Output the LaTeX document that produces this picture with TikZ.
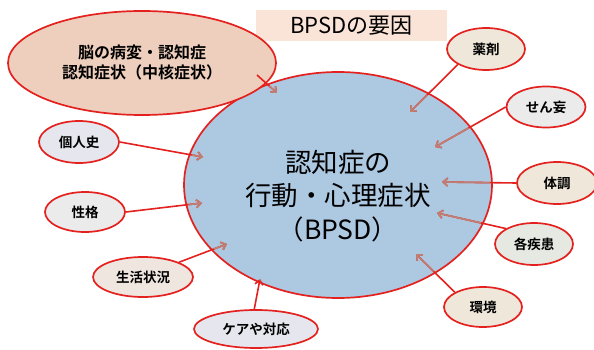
\documentclass[tikz,border=0pt]{standalone}
\usepackage{fontspec}
\setmainfont{Noto Sans CJK JP}[BoldFont={Noto Sans CJK JP Bold}]
\usetikzlibrary{shapes.geometric,arrows.meta}
\definecolor{rd}{HTML}{E3221F}
\definecolor{brn}{HTML}{BF7F72}
\definecolor{mainblue}{HTML}{ADC8E1}
\definecolor{peach}{HTML}{EECFBD}
\definecolor{titlebg}{HTML}{FAE3D7}
\definecolor{lav}{HTML}{E6E7EE}
\definecolor{lgray}{HTML}{EBEBEB}
\definecolor{pinkish}{HTML}{F0E6E0}
\definecolor{beige}{HTML}{EEE7DA}
\definecolor{lgreen}{HTML}{E5E9E1}
\begin{document}
\begin{tikzpicture}[x=1pt,y=-1pt,
  lab/.style={ellipse, draw=rd, line width=1.7pt, inner sep=0pt,
    font=\bfseries\fontsize{13.5}{16}\selectfont},
  conn/.style={line width=1.6pt, -{Straight Barb[length=4.5pt,width=8pt]}},
  redc/.style={conn, draw=rd},
  brnc/.style={conn, draw=brn},
]
\useasboundingbox (0,0) rectangle (594,350);
% title
\node[fill=titlebg, minimum width=191pt, minimum height=31pt, inner sep=0pt,
  font=\fontsize{22}{26}\selectfont] (title) at (351.5,25.5) {BPSDの要因};
% main ellipse
\node[ellipse, fill=mainblue, draw=rd, line width=1.7pt, minimum width=308pt,
  minimum height=226pt, inner sep=0pt] (main) at (338,185) {};
\node[align=center, font=\fontsize{26.5}{33.5}\selectfont] (maintext) at (338,196)
  {認知症の\\行動・心理症状\\（BPSD）};
% brain ellipse
\node[ellipse, fill=peach, draw=rd, line width=1.7pt, minimum width=268pt,
  minimum height=104pt, inner sep=0pt, align=center,
  font=\bfseries\fontsize{16}{20}\selectfont] (brain) at (142,63)
  {脳の病変・認知症\\認知症状（中核症状）};
% small ellipses
\node[lab, fill=lav, minimum width=80pt, minimum height=42pt] (koj) at (79,142) {個人史};
\node[lab, fill=lgray, minimum width=80pt, minimum height=40pt] (seikaku) at (85,212) {性格};
\node[lab, fill=pinkish, minimum width=100pt, minimum height=40pt] (seikatsu) at (143,277) {生活状況};
\node[lab, fill=lav, minimum width=124pt, minimum height=38pt] (care) at (256,329) {ケアや対応};
\node[lab, fill=beige, minimum width=78pt, minimum height=42pt] (yaku) at (486,49) {薬剤};
\node[lab, fill=lgray, minimum width=79pt, minimum height=41pt] (senmo) at (546,107) {せん妄};
\node[lab, fill=beige, minimum width=80pt, minimum height=42pt] (taicho) at (557,183) {体調};
\node[lab, fill=lgreen, minimum width=78pt, minimum height=42pt] (shikkan) at (534,244) {各疾患};
\node[lab, fill=beige, minimum width=78pt, minimum height=40pt] (kankyo) at (483,307) {環境};
% arrow end points
\coordinate (bs) at (257,75);
\coordinate (eb) at (277,93);
\coordinate (ek) at (203,157);
\coordinate (es) at (202,203);
\coordinate (el) at (227,244);
\coordinate (ec) at (260,279);
\coordinate (ey) at (410,112);
\coordinate (em) at (435,147);
\coordinate (et) at (442,182);
\coordinate (ed) at (437,213);
\coordinate (ev) at (416,254);
% red connectors
\draw[redc] (bs) -- (eb);
\draw[redc] (koj.east) -- (ek);
\draw[redc] (seikaku.east) -- (es);
\draw[redc] (seikatsu.north east) -- (el);
\draw[redc] (care.95) -- (ec);
\draw[redc] (yaku.south west) -- (ey);
\draw[redc] (senmo.west) -- (em);
\draw[redc] (taicho.west) -- (et);
\draw[redc] (shikkan.north west) -- (ed);
\draw[redc] (kankyo.north west) -- (ev);
% parts inside main ellipse
\begin{scope}
\clip (main.center) ellipse [x radius=152pt, y radius=111pt];
\draw[brnc] (bs) -- (eb);
\draw[brnc] (koj.east) -- (ek);
\draw[brnc] (seikaku.east) -- (es);
\draw[brnc] (seikatsu.north east) -- (el);
\draw[brnc] (care.95) -- (ec);
\draw[brnc] (yaku.south west) -- (ey);
\draw[brnc] (senmo.west) -- (em);
\draw[brnc] (taicho.west) -- (et);
\draw[brnc] (shikkan.north west) -- (ed);
\draw[brnc] (kankyo.north west) -- (ev);
\end{scope}
\end{tikzpicture}
\end{document}
